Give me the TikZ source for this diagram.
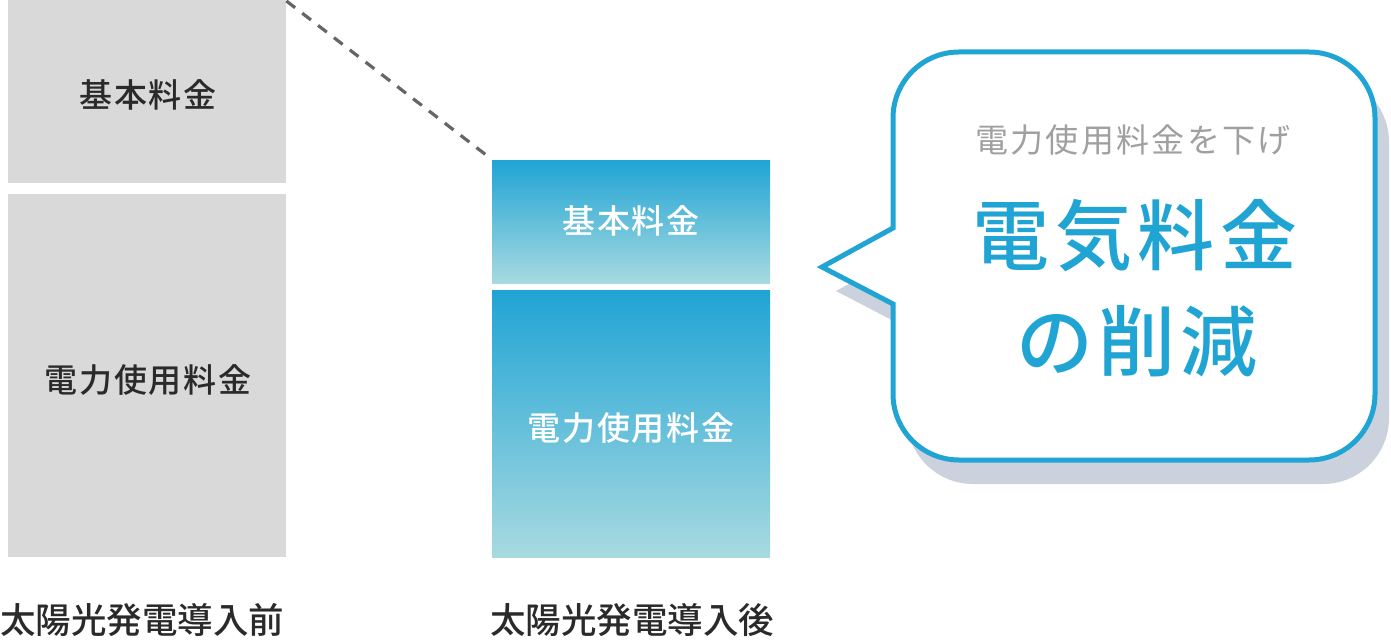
\documentclass[tikz,border=0pt]{standalone}
\usepackage{fontspec}
\setmainfont{Noto Sans CJK JP}
\IfFontExistsTF{Noto Sans CJK JP Medium}
  {\newfontfamily\jpmed{Noto Sans CJK JP Medium}}
  {\newfontfamily\jpmed{Noto Sans CJK JP}[FakeBold=1]}
\definecolor{boxgray}{HTML}{D9D9D9}
\definecolor{textdark}{HTML}{2A2A2A}
\definecolor{blueA}{HTML}{20A4D5}
\definecolor{blueB}{HTML}{A8DAE0}
\definecolor{bubblue}{HTML}{20A4D4}
\definecolor{shadowc}{HTML}{CBD2DD}
\definecolor{subgray}{HTML}{A0A0A0}
\definecolor{dashc}{HTML}{666666}
\begin{document}
\begin{tikzpicture}[x=1pt,y=-1pt,
  graybox/.style={fill=boxgray,draw=none,inner sep=0,anchor=north west},
  bluebox/.style={top color=blueA,bottom color=blueB,draw=none,inner sep=0,anchor=north west},
  lbl/.style={font=\jpmed\fontsize{33}{33}\selectfont\addfontfeatures{LetterSpace=5},anchor=base,inner sep=0},
  darklbl/.style={lbl,text=textdark},
  whitelbl/.style={lbl,text=white},
  caption/.style={font=\jpmed\fontsize{35.5}{35.5}\selectfont,text=textdark,anchor=base,inner sep=0},
  dashline/.style={draw=dashc,line width=3.2,dash pattern=on 11 off 9},
  bubble/.style={draw=bubblue,line width=5,fill=white,line join=miter},
  bigtxt/.style={font=\jpmed\fontsize{77}{77}\selectfont\addfontfeatures{LetterSpace=7},text=bubblue,anchor=base,inner sep=0},
  subtxt/.style={font=\fontsize{33}{33}\selectfont\addfontfeatures{LetterSpace=7},text=subgray,anchor=base,inner sep=0}
]
\useasboundingbox (0,0) rectangle (1391,644);
% left boxes
\node[graybox,minimum width=278,minimum height=183] (b1) at (8,0) {};
\node[graybox,minimum width=278,minimum height=363] (b2) at (8,194) {};
% right boxes
\node[bluebox,minimum width=278,minimum height=123] (c1) at (492,160) {};
\node[bluebox,minimum width=278,minimum height=267] (c2) at (492,290) {};
% dashed connector
\draw[dashline] ([shift={(0,1)}]b1.north east) -- ([shift={(-2,-2)}]c1.north west);
% texts in boxes
\node[darklbl] (t1) at (148,108) {基本料金};
\node[darklbl] (t2) at (148,392) {電力使用料金};
\node[whitelbl] (t3) at (631,234) {基本料金};
\node[whitelbl] (t4) at (631,440) {電力使用料金};
% captions
\node[caption] (cap1) at (142,633) {太陽光発電導入前};
\node[caption] (cap2) at (632,633) {太陽光発電導入後};
% bubble shadow
\begin{scope}[shift={(14,24)}]
\fill[shadowc] (893,228) -- (822,267) -- (893,304) [rounded corners=66] -- (893,460) -- (1375,460) -- (1375,52) -- (893,52) [sharp corners] -- cycle;
\end{scope}
% bubble
\coordinate (p1) at (893,228);
\coordinate (tip) at (822,267);
\coordinate (p2) at (893,304);
\coordinate (bl) at (893,460);
\coordinate (br) at (1375,460);
\coordinate (tr) at (1375,52);
\coordinate (tl) at (893,52);
\path[bubble] (p1) -- (tip) -- (p2) [rounded corners=66] -- (bl) -- (br) -- (tr) -- (tl) [sharp corners] -- cycle;
% bubble texts
\node[subtxt] (s1) at (1133,153) {電力使用料金を下げ};
\node[bigtxt] (s2) at (1135,265) {電気料金};
\node[bigtxt] (s3) at (1137,370) {の削減};
\end{tikzpicture}
\end{document}
